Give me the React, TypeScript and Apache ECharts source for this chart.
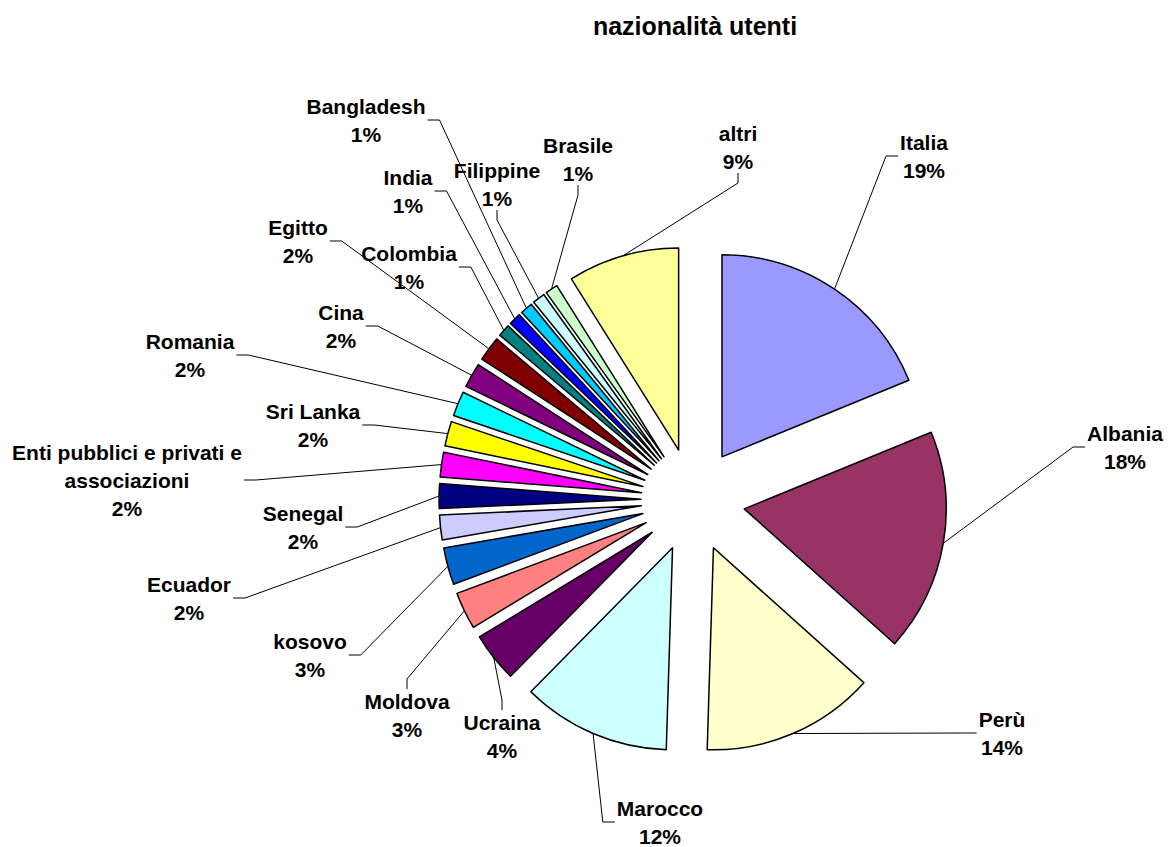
import React, { useEffect, useRef } from 'react';
import * as echarts from 'echarts';

const TITLE = 'nazionalità utenti';
const NAMES = [
  'Italia', 'Albania', 'Perù', 'Marocco', 'Ucraina', 'Moldova', 'kosovo', 'Ecuador', 'Senegal',
  'Enti pubblici e privati e\nassociazioni', 'Sri Lanka', 'Romania', 'Cina', 'Egitto', 'Colombia',
  'India', 'Bangladesh', 'Filippine', 'Brasile', 'altri',
];
const VALUES = [19, 18, 14, 12, 4, 3, 3, 2, 2, 2, 2, 2, 2, 2, 1, 1, 1, 1, 1, 9];
const COLORS = [
  '#9999FF', '#993366', '#FFFFCC', '#CCFFFF', '#660066', '#FF8080', '#0066CC', '#CCCCFF', '#000080',
  '#FF00FF', '#FFFF00', '#00FFFF', '#800080', '#800000', '#008080', '#0000FF', '#00CCFF', '#CCFFFF',
  '#CCFFCC', '#FFFF99',
];
// label block centres (layout only)
const LABEL_POS = [
  [924, 156], [1125, 447], [1002, 733], [660, 822], [502, 736], [407, 715], [310, 655], [189, 598],
  [303, 527], [127, 480], [313, 425], [190, 355], [341, 326], [298, 241], [409, 267], [408, 191],
  [366, 120], [497, 184], [578, 159], [738, 147],
];
// side of the label where its leader line ends (layout only)
const LABEL_SIDE = [
  'l', 'l', 'l', 'l', 't', 't', 'r', 'r', 'r', 'r', 'r', 'r', 'r', 'r', 'r', 'r', 'r', 'b', 'b', 'b',
];

const CX = 693;
const CY = 500;
const R = 202;
const EXPLODE = 52;
const FONT = 'Arial, "Liberation Sans", sans-serif';

export default function App() {
  const ref = useRef<HTMLDivElement>(null);
  useEffect(() => {
    if (!ref.current) return;
    const chart = echarts.init(ref.current, null, { renderer: 'svg' });
    const total = VALUES.reduce((a, b) => a + b, 0);
    let cum = 0;
    const series = VALUES.map((v, i) => {
      const mid = ((cum + v / 2) / total) * Math.PI * 2;
      cum += v;
      const cx = CX + EXPLODE * Math.sin(mid);
      const cy = CY - EXPLODE * Math.cos(mid);
      return {
        type: 'pie',
        silent: true,
        center: [cx, cy],
        radius: [0, R],
        startAngle: 90,
        clockwise: true,
        avoidLabelOverlap: false,
        emphasis: { disabled: true },
        labelLayout: (p: any) => {
          if (p.dataIndex !== i || !p.labelLinePoints) return {};
          const [lx, ly] = LABEL_POS[i];
          const w = p.labelRect.width;
          const h = p.labelRect.height;
          const anchor = p.labelLinePoints[0];
          let end: number[];
          let elbow: number[];
          switch (LABEL_SIDE[i]) {
            case 'l':
              end = [lx - w / 2 - 2, ly];
              elbow = [end[0] - 12, ly];
              break;
            case 'r':
              end = [lx + w / 2 + 2, ly];
              elbow = [end[0] + 12, ly];
              break;
            case 't':
              end = [lx, ly - h / 2 + 2];
              elbow = [lx, end[1] - 10];
              break;
            default:
              end = [lx, ly + h / 2 - 2];
              elbow = [lx, end[1] + 10];
          }
          return {
            x: lx,
            y: ly,
            align: 'center',
            verticalAlign: 'middle',
            labelLinePoints: [anchor, elbow, end],
          };
        },
        data: VALUES.map((val, j) =>
          j === i
            ? {
                name: NAMES[j],
                value: val,
                itemStyle: { color: COLORS[j], borderColor: '#000', borderWidth: 1.5 },
                label: {
                  show: true,
                  position: 'outside',
                  formatter: '{b}\n{c}%',
                  color: '#000',
                  fontFamily: FONT,
                  fontWeight: 'bold',
                  fontSize: 21,
                  lineHeight: 28,
                  align: 'center',
                },
                labelLine: {
                  show: true,
                  length: 10,
                  length2: 12,
                  minTurnAngle: 0,
                  lineStyle: { color: '#000', width: 1 },
                },
              }
            : {
                name: NAMES[j],
                value: val,
                itemStyle: { color: 'rgba(0,0,0,0)', borderWidth: 0 },
                label: { show: false },
                labelLine: { show: false },
              }
        ),
      };
    });
    chart.setOption({
      animation: false,
      backgroundColor: '#fff',
      graphic: [
        {
          type: 'text',
          x: 695,
          y: 26,
          style: {
            text: TITLE,
            align: 'center',
            verticalAlign: 'middle',
            font: `bold 25px ${FONT}`,
            fill: '#000',
          },
        },
      ],
      series,
    });
    return () => chart.dispose();
  }, []);
  return (
    <div
      ref={ref}
      style={{ position: 'fixed', left: 0, top: 0, width: 1168, height: 847 }}
    />
  );
}
